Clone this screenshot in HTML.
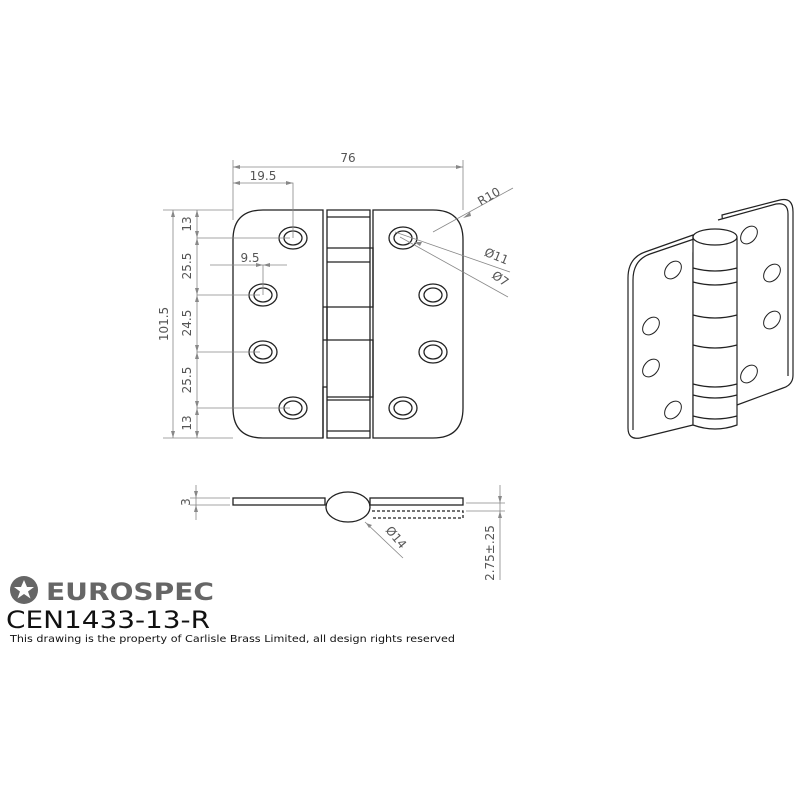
<!DOCTYPE html>
<html><head><style>body{margin:0;background:#fff}svg{display:block}</style></head><body>
<svg width="800" height="800" viewBox="0 0 800 800" xmlns="http://www.w3.org/2000/svg" font-family="'DejaVu Sans','Liberation Sans',sans-serif">
<g fill="none" stroke="#222" stroke-width="1.3">
<path d="M323 210 H263 Q233 210 233 240 V408 Q233 438 263 438 H323 Z"/>
<path d="M373 210 H433 Q463 210 463 240 V408 Q463 438 433 438 H373 Z"/>
<path d="M327 210 H370 V438 H327 Z"/>
<path d="M327 248 H373 V307 H327 M327 262 H370 M323 307 H327 V340 H323 M327 340 H373 V397 H327 M327 387 H323 V438 M327 400 H370 M327 217 H370 M327 431 H370"/>
<g>
<ellipse cx="293" cy="238" rx="14" ry="11"/><ellipse cx="293" cy="238" rx="9" ry="7"/>
<ellipse cx="263" cy="295" rx="14" ry="11"/><ellipse cx="263" cy="295" rx="9" ry="7"/>
<ellipse cx="263" cy="352" rx="14" ry="11"/><ellipse cx="263" cy="352" rx="9" ry="7"/>
<ellipse cx="293" cy="408" rx="14" ry="11"/><ellipse cx="293" cy="408" rx="9" ry="7"/>
<ellipse cx="403" cy="238" rx="14" ry="11"/><ellipse cx="403" cy="238" rx="9" ry="7"/>
<ellipse cx="433" cy="295" rx="14" ry="11"/><ellipse cx="433" cy="295" rx="9" ry="7"/>
<ellipse cx="433" cy="352" rx="14" ry="11"/><ellipse cx="433" cy="352" rx="9" ry="7"/>
<ellipse cx="403" cy="408" rx="14" ry="11"/><ellipse cx="403" cy="408" rx="9" ry="7"/>
</g>
<rect x="233" y="498" width="92" height="7"/>
<rect x="370" y="498" width="93" height="7"/>
<ellipse cx="348" cy="507" rx="22" ry="15"/>
<path d="M372 511 H463 V518 H372" stroke-dasharray="3 2"/>
</g>
<g fill="none" stroke="#888" stroke-width="0.8">
<path d="M233 160 V220 M463 160 V210 M233 167 H463 M233 183 H293 V238 M210 265 H287 M263 265 V295"/>
<path d="M163 210 H233 M163 438 H233 M173 210 V438 M197 210 V438 M197 238 H290 M197 295 H260 M197 352 H260 M197 408 H290"/>
<path d="M433 232 L513 188 M395 232 L510 272 M400 237 L508 297"/>
<path d="M196 485 V520 M190 498 H230 M190 505 H230 M500 485 V580 M466 503 H505 M466 511 H505 M365 522 L403 558"/>
</g>
<g fill="#888" stroke="none">
<path d="M233 167 l7 -2 v4z M463 167 l-7 -2 v4z M233 183 l7 -2 v4z M293 183 l-7 -2 v4z M263 265 l-7 -2 v4z M263 265 l7 -2 v4z"/>
<path d="M173 210 l-2 7 h4z M173 438 l-2 -7 h4z"/>
<path d="M197 210 l-2 7h4z M197 238 l-2 -7h4z M197 238 l-2 7h4z M197 295 l-2 -7h4z M197 295 l-2 7h4z M197 352 l-2 -7h4z M197 352 l-2 7h4z M197 408 l-2 -7h4z M197 408 l-2 7h4z M197 438 l-2 -7h4z"/>
<path d="M463 218 l7 -6 l1 4z M414 242 l8 0 l-2 4z M196 498 l-2 -7h4z M196 505 l-2 7h4z M500 503 l-2 -7h4z M500 511 l-2 7h4z M366 523 l6 2 l-3 3z"/>
</g>
<g fill="#555" font-size="12">
<text x="348" y="162" text-anchor="middle">76</text>
<text x="263" y="180" text-anchor="middle">19.5</text>
<text x="250" y="262" text-anchor="middle">9.5</text>
<text transform="translate(168 324) rotate(-90)" text-anchor="middle">101.5</text>
<text transform="translate(191 224) rotate(-90)" text-anchor="middle">13</text>
<text transform="translate(191 266) rotate(-90)" text-anchor="middle">25.5</text>
<text transform="translate(191 323) rotate(-90)" text-anchor="middle">24.5</text>
<text transform="translate(191 380) rotate(-90)" text-anchor="middle">25.5</text>
<text transform="translate(191 423) rotate(-90)" text-anchor="middle">13</text>
<text transform="translate(491 200) rotate(-30)" text-anchor="middle">R10</text>
<text transform="translate(495 260) rotate(22)" text-anchor="middle">Ø11</text>
<text transform="translate(498 282) rotate(35)" text-anchor="middle">Ø7</text>
<text transform="translate(190 502) rotate(-90)" text-anchor="middle">3</text>
<text transform="translate(393 540) rotate(50)" text-anchor="middle">Ø14</text>
<text transform="translate(494 553) rotate(-90)" text-anchor="middle">2.75±.25</text>
</g>
<g fill="#fff" stroke="#222" stroke-width="1.2">
<path d="M722 215 L780 200 Q793 197 793 212 V375 Q793 385 783 388 L737 405 Z"/>
<path d="M718 220 L776 204 Q788 202 788 214 V376"/>
<path d="M693 235 L645 252 Q628 258 628 278 V428 Q628 440 640 438 L693 425 Z"/>
<path d="M697 238 L650 254 Q633 260 633 280 V430"/>
<path d="M693 237 V425 Q715 433 737 425 V237 Z"/>
<ellipse cx="715" cy="237" rx="22" ry="8"/>
<path d="M693 268 Q715 274 737 268 M693 282 Q715 288 737 282 M693 315 Q715 321 737 315 M693 345 Q715 351 737 345 M693 384 Q715 390 737 384 M693 395 Q715 401 737 395 M693 416 Q715 422 737 416"/>
<g stroke-width="1">
<ellipse cx="673" cy="270" rx="7" ry="10" transform="rotate(40 673 270)"/>
<ellipse cx="651" cy="326" rx="7" ry="10" transform="rotate(40 651 326)"/>
<ellipse cx="651" cy="368" rx="7" ry="10" transform="rotate(40 651 368)"/>
<ellipse cx="673" cy="410" rx="7" ry="10" transform="rotate(40 673 410)"/>
<ellipse cx="749" cy="235" rx="7" ry="10" transform="rotate(40 749 235)"/>
<ellipse cx="772" cy="273" rx="7" ry="10" transform="rotate(40 772 273)"/>
<ellipse cx="772" cy="320" rx="7" ry="10" transform="rotate(40 772 320)"/>
<ellipse cx="749" cy="374" rx="7" ry="10" transform="rotate(40 749 374)"/>
</g>
</g>
<circle cx="24" cy="590" r="14" fill="#666"/>
<path d="M24 580 l3 7 h7 l-6 4.5 l2.5 7 l-6.5 -4.5 l-6.5 4.5 l2.5 -7 l-6 -4.5 h7z" fill="#fff"/>
<text x="46" y="600" font-family="'DejaVu Sans',sans-serif" font-weight="bold" font-size="24" fill="#666" textLength="168" lengthAdjust="spacingAndGlyphs">EUROSPEC</text>
<text x="6" y="628" font-family="'DejaVu Sans',sans-serif" font-size="24" fill="#111" textLength="204" lengthAdjust="spacingAndGlyphs">CEN1433-13-R</text>
<text x="10" y="642" font-family="'DejaVu Sans',sans-serif" font-size="10" fill="#111" textLength="445" lengthAdjust="spacingAndGlyphs">This drawing is the property of Carlisle Brass Limited, all design rights reserved</text>
</svg>
</body></html>
